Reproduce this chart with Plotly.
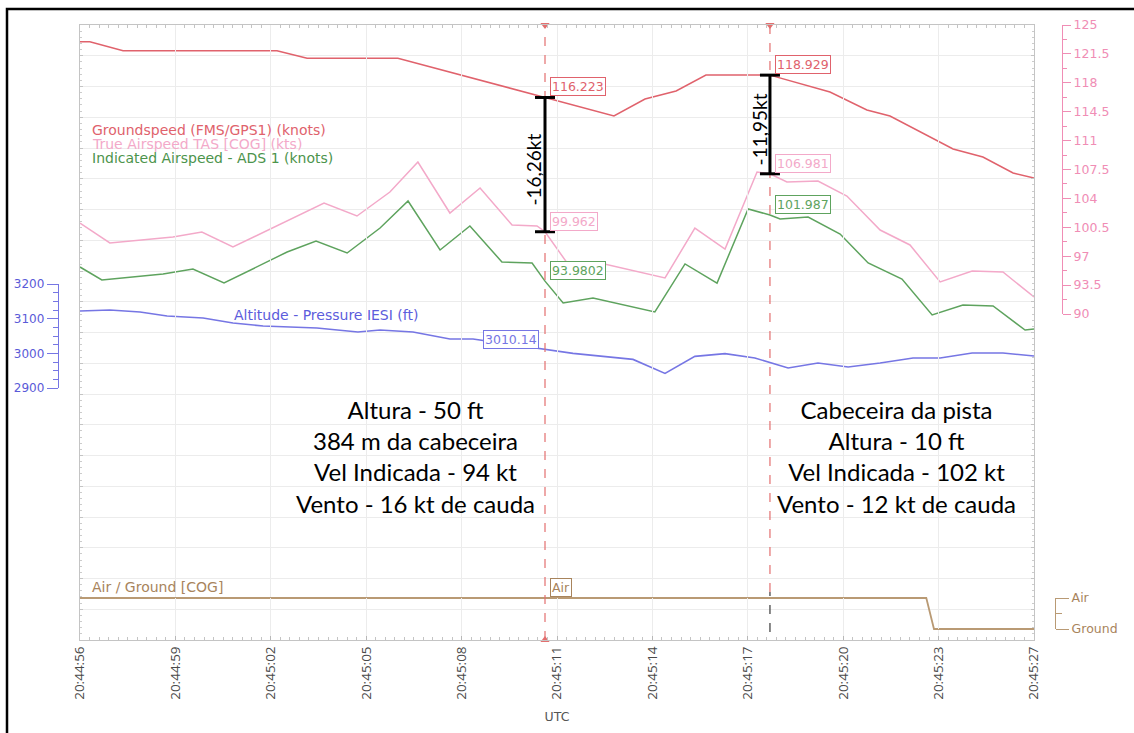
import plotly.graph_objects as go

# ---- time base: seconds after 20:44:56 UTC ----
tick_t = [0, 3.1, 6.2, 9.3, 12.4, 15.5, 18.6, 21.7, 24.8, 27.9, 31.0]
tick_labels = ["20:44:56", "20:44:59", "20:45:02", "20:45:05", "20:45:08", "20:45:11",
               "20:45:14", "20:45:17", "20:45:20", "20:45:23", "20:45:27"]

# ---- recorded parameters ----
gs_t = [0, 0.32, 1.40, 6.40, 7.38, 10.33, 15.11, 17.35, 18.36, 19.37, 20.34, 22.42,
        24.37, 25.57, 26.32, 28.37, 29.34, 30.32, 31.0]
gs_v = [122.98, 122.98, 121.89, 121.89, 120.97, 120.97, 116.223, 113.98, 116.04, 117.01,
        118.94, 118.929, 116.89, 114.71, 113.98, 109.98, 109.01, 107.08, 106.47]

tas_t = [0, 0.97, 3.02, 3.96, 4.97, 7.93, 9.00, 10.07, 10.98, 12.02, 13.00, 14.04, 14.85,
         15.11, 15.83, 16.90, 19.01, 19.98, 20.96, 22.00, 22.42, 22.97, 23.98, 24.92, 26.00,
         26.97, 27.95, 28.99, 29.99, 31.0]
tas_v = [101.02, 98.60, 99.32, 99.93, 98.11, 103.44, 101.87, 104.77, 108.41, 102.23, 105.26,
         100.78, 100.66, 99.962, 96.18, 96.18, 94.36, 100.41, 97.87, 107.20, 106.981, 105.99,
         106.11, 104.29, 100.17, 98.36, 93.88, 95.21, 95.09, 92.06]

ias_t = [0, 0.71, 2.70, 3.67, 4.68, 6.73, 7.67, 8.68, 9.75, 10.66, 11.70, 12.67, 13.71, 14.69,
         15.11, 15.70, 16.67, 18.68, 19.66, 20.70, 21.71, 22.42, 22.75, 23.66, 24.70, 25.61,
         26.71, 27.69, 28.69, 29.67, 30.71, 31.0]
ias_v = [95.69, 94.12, 94.84, 95.45, 93.75, 97.51, 98.84, 97.39, 100.41, 103.68, 97.75, 100.66,
         96.30, 96.18, 93.9802, 91.33, 91.94, 90.24, 96.06, 93.75, 102.72, 101.987, 101.50,
         101.75, 99.69, 96.18, 94.24, 89.88, 91.09, 90.97, 88.06, 88.18]

alt_t = [0, 0.97, 1.95, 2.83, 4.00, 4.97, 5.95, 7.70, 9.03, 9.75, 10.82, 12.02, 12.77, 14.72,
         15.11, 16.02, 17.97, 19.01, 19.98, 20.96, 21.93, 23.01, 23.98, 24.96, 26.00, 27.07,
         27.95, 28.99, 29.99, 31.0]
alt_v = [3122.1, 3125.0, 3119.2, 3107.7, 3101.9, 3087.5, 3078.8, 3073.1, 3061.5, 3067.3,
         3061.5, 3041.3, 3041.3, 3015.4, 3010.14, 2999.8, 2982.5, 2942.1, 2991.3, 2999.0,
         2986.5, 2957.7, 2972.1, 2960.6, 2972.1, 2986.5, 2986.5, 3000.9, 3000.9, 2992.3]

ag_t = [0, 27.5, 27.75, 31.0]
ag_v = [1, 1, 0, 0]          # 1 = Air, 0 = Ground

# ---- cursors ----
cur1_t, cur2_t = 15.11, 22.42
cur1 = {"gs": 116.223, "tas": 99.962, "ias": 93.9802, "alt": 3010.14}
cur2 = {"gs": 118.929, "tas": 106.981, "ias": 101.987}

speed_ticks = [90, 93.5, 97, 100.5, 104, 107.5, 111, 114.5, 118, 121.5, 125]
speed_tick_text = ["90", "93.5", "97", "100.5", "104", "107.5", "111", "114.5", "118", "121.5", "125"]
alt_ticks = [2900, 3000, 3100, 3200]
ag_ticks = [0, 1]
ag_tick_text = ["Ground", "Air"]

notes_left = ["Altura - 50 ft", "384 m da cabeceira", "Vel Indicada - 94 kt", "Vento - 16 kt de cauda"]
notes_right = ["Cabeceira da pista", "Altura - 10 ft", "Vel Indicada - 102 kt", "Vento - 12 kt de cauda"]

# ---- colours ----
C_GS = "#e0626c"
C_TAS = "#f3a9c9"
C_IAS = "#5ea35e"
C_ALT = "#7676e4"
C_AG = "#b99a74"
C_AXR = "#f08db5"
C_CUR = "#e36f6f"
C_GRID = "#ececec"
C_FRAME = "#c4c4c4"
MONO = "DejaVu Sans, Verdana, sans-serif"
NOTE_FONT = "Lato, Carlito, sans-serif"

fig = go.Figure()

line_w = 1.5
fig.add_trace(go.Scatter(x=gs_t, y=gs_v, yaxis="y2", mode="lines", line=dict(color=C_GS, width=line_w), hoverinfo="skip"))
fig.add_trace(go.Scatter(x=tas_t, y=tas_v, yaxis="y2", mode="lines", line=dict(color=C_TAS, width=line_w), hoverinfo="skip"))
fig.add_trace(go.Scatter(x=ias_t, y=ias_v, yaxis="y2", mode="lines", line=dict(color=C_IAS, width=line_w), hoverinfo="skip"))
fig.add_trace(go.Scatter(x=alt_t, y=alt_v, yaxis="y3", mode="lines", line=dict(color=C_ALT, width=1.6), hoverinfo="skip"))
fig.add_trace(go.Scatter(x=ag_t, y=ag_v, yaxis="y4", mode="lines", line=dict(color=C_AG, width=1.8), hoverinfo="skip"))

# placeholder traces so the scale-only axes get drawn
for ax, yv in (("y5", 100), ("y6", 3000), ("y7", 0.5)):
    fig.add_trace(go.Scatter(x=[0], y=[yv], yaxis=ax, mode="markers", marker=dict(opacity=0),
                             hoverinfo="skip", showlegend=False))

# cursor triangles on the plot edges
fig.add_trace(go.Scatter(x=[cur1_t, cur2_t], y=[20, 20], yaxis="y", mode="markers",
                         marker=dict(symbol="triangle-down", size=8, color=C_CUR),
                         cliponaxis=False, hoverinfo="skip"))
fig.add_trace(go.Scatter(x=[cur1_t], y=[0], yaxis="y", mode="markers",
                         marker=dict(symbol="triangle-up", size=8, color=C_CUR),
                         cliponaxis=False, hoverinfo="skip"))

# ---- geometry of the drawing area (pixels) ----
W, H = 1134, 733
ml, mr, mt, mb = 50, 34, 25, 93
pw = W - ml - mr
ph = H - mt - mb


def px_x(p):
    return (p - ml) / pw


def px_y(p):
    return (H - mb - p) / ph


xdom = [px_x(80), px_x(1034)]

# data axes share the whole height; scale-only axes cover part of it
speed_full = [125 - (640 - 25) * 35 / 289, 125]
alt_full = [3200 - (640 - 284) * 300 / 104, 3200 + (284 - 25) * 300 / 104]
ag_full = [0 - (640 - 629) / 31, 1 + (598 - 25) / 31]

fig.update_layout(
    width=W, height=H,
    margin=dict(l=ml, r=mr, t=mt, b=mb, autoexpand=False),
    paper_bgcolor="white",
    plot_bgcolor="rgba(0,0,0,0)",
    showlegend=False,
    xaxis=dict(
        domain=xdom, range=[0, 31], anchor="y",
        tickmode="array", tickvals=tick_t, ticktext=tick_labels, tickangle=-90,
        tickfont=dict(family="Open Sans, sans-serif", size=13.5, color="#4a4a4a"),
        ticks="inside", ticklen=4, tickcolor="#b8b8b8",
        minor=dict(tick0=0, dtick=0.31, ticks="inside", ticklen=3, tickcolor="#c4c4c4", showgrid=False),
        showgrid=True, gridcolor=C_GRID, gridwidth=1,
        showline=True, linecolor=C_FRAME, linewidth=1, mirror="ticks",
        zeroline=False, automargin=False,
        title=dict(text="UTC", font=dict(family=MONO, size=12.5, color="#555555"), standoff=13),
    ),
    yaxis=dict(
        domain=[0, 1], range=[0, 20], dtick=1, tick0=0, anchor="x",
        showticklabels=False, ticks="inside", ticklen=3, tickcolor="#c4c4c4",
        minor=dict(dtick=0.2, ticks="inside", ticklen=2, tickcolor="#cccccc", showgrid=False),
        showgrid=True, gridcolor=C_GRID, gridwidth=1,
        showline=True, linecolor=C_FRAME, linewidth=1, mirror="ticks",
        zeroline=False, automargin=False,
    ),
    yaxis2=dict(overlaying="y", anchor="x", range=speed_full, visible=False),
    yaxis3=dict(overlaying="y", anchor="x", range=alt_full, visible=False),
    yaxis4=dict(overlaying="y", anchor="x", range=ag_full, visible=False),
    yaxis5=dict(
        domain=[px_y(314), px_y(25)], range=[90, 125], anchor="free", position=px_x(1062), side="right",
        tickmode="array", tickvals=speed_ticks, ticktext=speed_tick_text,
        tickfont=dict(family=MONO, size=12.5, color=C_AXR),
        ticks="outside", ticklen=8, tickcolor=C_AXR, tickwidth=1,
        minor=dict(dtick=1.75, tick0=90, ticks="outside", ticklen=4, tickcolor=C_AXR, showgrid=False),
        showline=True, linecolor=C_AXR, linewidth=1.2, showgrid=False, zeroline=False, automargin=False,
    ),
    yaxis6=dict(
        domain=[px_y(388), px_y(284)], range=[2900, 3200], anchor="free", position=px_x(58), side="left",
        tickmode="array", tickvals=alt_ticks,
        tickfont=dict(family=MONO, size=12, color="#5a5ad8"),
        ticks="outside", ticklen=11, tickcolor=C_ALT, tickwidth=1.2,
        minor=dict(dtick=25, tick0=2900, ticks="outside", ticklen=5, tickcolor=C_ALT, showgrid=False),
        showline=True, linecolor=C_ALT, linewidth=1.4, showgrid=False, zeroline=False, automargin=False,
    ),
    yaxis7=dict(
        domain=[px_y(629), px_y(598)], range=[0, 1], anchor="free", position=px_x(1055), side="right",
        tickmode="array", tickvals=ag_ticks, ticktext=ag_tick_text,
        tickfont=dict(family=MONO, size=12.5, color="#a8845c"),
        ticks="outside", ticklen=13, tickcolor=C_AG, tickwidth=1.2,
        minor=dict(dtick=0.5, tick0=0, ticks="outside", ticklen=6, tickcolor=C_AG, showgrid=False),
        showline=True, linecolor=C_AG, linewidth=1.2, showgrid=False, zeroline=False, automargin=False,
    ),
)

shapes = []
# outer frame
shapes.append(dict(type="rect", xref="paper", yref="paper",
                   x0=px_x(7), x1=px_x(1145), y0=px_y(745), y1=px_y(9),
                   line=dict(color="black", width=2.5), fillcolor="rgba(0,0,0,0)", layer="above"))

# cursor lines
shapes.append(dict(type="line", xref="x", yref="paper", x0=cur1_t, x1=cur1_t, y0=0, y1=1,
                   line=dict(color=C_CUR, width=1.2, dash="dash")))
shapes.append(dict(type="line", xref="x", yref="paper", x0=cur2_t, x1=cur2_t, y0=px_y(592), y1=1,
                   line=dict(color=C_CUR, width=1.2, dash="dash")))
shapes.append(dict(type="line", xref="x", yref="paper", x0=cur2_t, x1=cur2_t, y0=px_y(632), y1=px_y(592),
                   line=dict(color="#555555", width=1.4, dash="dash")))

# groundspeed - true airspeed brackets
for t, c in ((cur1_t, cur1), (cur2_t, cur2)):
    shapes.append(dict(type="line", xref="x", yref="y2", x0=t, x1=t, y0=c["tas"], y1=c["gs"],
                       line=dict(color="black", width=3), layer="above"))
    for v in (c["gs"], c["tas"]):
        shapes.append(dict(type="line", xref="x", yref="y2", xsizemode="pixel", xanchor=t,
                           x0=-10, x1=10, y0=v, y1=v, line=dict(color="black", width=3), layer="above"))

fig.update_layout(shapes=shapes)

ann = []


def value_box(t, v, yref, color, side="left", text=None):
    label = text if text is not None else "%.6g" % v
    ann.append(dict(x=t, y=v, xref="x", yref=yref, text=label, showarrow=False,
                    xanchor=side, yanchor="bottom", xshift=5 if side == "left" else -6, yshift=1,
                    font=dict(family=MONO, size=12.5, color=color),
                    bgcolor="white", bordercolor=color, borderwidth=1, borderpad=1))


value_box(cur1_t, cur1["gs"], "y2", C_GS)
value_box(cur1_t, cur1["tas"], "y2", C_TAS)
value_box(cur1_t, cur1["ias"], "y2", C_IAS)
value_box(cur1_t, cur1["alt"], "y3", C_ALT, side="right")
value_box(cur1_t, 1, "y4", "#a8845c", text="Air")
value_box(cur2_t, cur2["gs"], "y2", C_GS)
value_box(cur2_t, cur2["tas"], "y2", C_TAS)
value_box(cur2_t, cur2["ias"], "y2", C_IAS)

# difference labels beside the brackets
for t, c in ((cur1_t, cur1), (cur2_t, cur2)):
    diff = c["tas"] - c["gs"]
    ann.append(dict(x=t, y=(c["gs"] + c["tas"]) / 2, xref="x", yref="y2",
                    text=("%.2f" % diff).replace(".", ",") + "kt", textangle=-90,
                    showarrow=False, xanchor="center", yanchor="middle", xshift=-11, yshift=-5,
                    font=dict(family=NOTE_FONT, size=19, color="black")))

# series names
series_names = [("Groundspeed (FMS/GPS1) (knots)", C_GS, 90, 130),
                ("True Airspeed TAS [COG] (kts)", C_TAS, 90, 144),
                ("Indicated Airspeed - ADS 1 (knots)", "#4c944c", 90, 158),
                ("Altitude - Pressure IESI (ft)", "#5c5cdc", 232, 315),
                ("Air / Ground [COG]", "#a8845c", 90, 587)]
for name, col, px0, py0 in series_names:
    ann.append(dict(x=px_x(px0), y=px_y(py0), xref="paper", yref="paper", text=name,
                    showarrow=False, xanchor="left", yanchor="middle",
                    font=dict(family=MONO, size=14, color=col)))

# notes
for lines, cx in ((notes_left, 415), (notes_right, 896)):
    ann.append(dict(x=px_x(cx), y=px_y(456), xref="paper", yref="paper", text="<br>".join(lines),
                    showarrow=False, xanchor="center", yanchor="middle", align="center",
                    font=dict(family=NOTE_FONT, size=24, color="black")))

fig.update_layout(annotations=ann)

fig.write_html("out.html")
